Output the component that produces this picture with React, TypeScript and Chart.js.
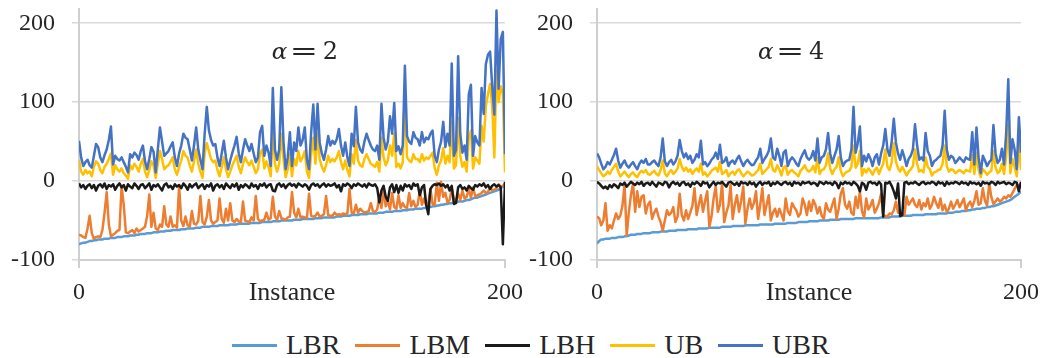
import React, { useEffect, useRef } from "react";
import { Chart, registerables } from "chart.js";

Chart.register(...registerables);

// ---------- data ----------
const INSTANCES: number[] = Array.from({ length: 201 }, (_, i) => i);
const Y_TICKS = [-100, 0, 100, 200];
const X_TICKS = [0, 100, 200];
const X_TICK_LABELS: Record<number, string> = { 0: "0", 100: "Instance", 200: "200" };
const SERIES_NAMES = ["LBR", "LBM", "LBH", "UB", "UBR"];
const SERIES_COLORS = ["#5B9BD5", "#ED7D31", "#1A1A1A", "#FFC000", "#4472C4"];

// alpha = 2
const LBR_A2 = [
  -80,-79,-78,-78,-77,-76,-76,-75,-75,-74,
  -74,-74,-73,-73,-73,-72,-72,-72,-71,-71,
  -71,-70,-70,-70,-69,-69,-69,-68,-68,-67,
  -67,-67,-66,-66,-66,-65,-65,-65,-64,-64,
  -64,-63,-63,-63,-62,-62,-62,-62,-61,-61,
  -61,-60,-60,-60,-60,-59,-59,-59,-58,-58,
  -58,-58,-57,-57,-57,-57,-56,-56,-56,-56,
  -56,-55,-55,-55,-55,-54,-54,-54,-54,-54,
  -54,-53,-53,-53,-53,-53,-52,-52,-52,-52,
  -52,-51,-51,-51,-51,-50,-50,-50,-50,-50,
  -50,-49,-49,-49,-49,-48,-48,-48,-48,-48,
  -48,-47,-47,-47,-47,-46,-46,-46,-46,-46,
  -46,-45,-45,-45,-44,-44,-44,-44,-43,-43,
  -43,-43,-42,-42,-42,-42,-41,-41,-41,-41,
  -41,-40,-40,-40,-39,-39,-39,-39,-38,-38,
  -38,-38,-37,-37,-37,-36,-36,-36,-35,-35,
  -35,-35,-34,-34,-33,-33,-32,-32,-31,-31,
  -30,-30,-29,-29,-28,-28,-27,-27,-26,-26,
  -26,-25,-24,-24,-23,-22,-21,-21,-20,-19,
  -18,-17,-16,-15,-14,-13,-12,-11,-9,-7,
  -5,
];
const LBM_A2 = [
  -68,-69,-71,-72,-60,-44,-66,-73,-71,-70,
  -71,-62,-40,-14,-55,-70,-68,-66,-63,-62,
  -7,-30,-65,-66,-64,-62,-66,-60,-64,-62,
  -60,-58,-44,-17,-58,-40,-60,-62,-55,-58,
  -32,-55,-58,-45,-58,-56,-59,-6,-50,-57,
  -45,-56,-58,-38,-54,-55,-50,-19,-52,-55,
  -45,-24,-50,-54,-52,-50,-22,-48,-53,-35,
  -50,-28,-50,-52,-48,-51,-52,-26,-50,-51,
  -52,-46,-50,-19,-48,-51,-50,-49,-40,-49,
  -47,-20,-45,-49,-38,-47,-48,-49,-46,-45,
  -14,-40,-46,-35,-46,-45,-46,-47,-16,-44,
  -45,-44,-40,-45,-44,-42,-19,-43,-44,-44,
  -40,-43,-42,-43,-41,-42,-41,-10,-40,-41,
  -30,-40,-35,-38,-40,-39,-38,-28,-38,-39,
  -36,-20,-34,-12,-32,-25,-36,-15,-33,-35,
  -18,-34,-28,-33,-34,-15,-32,-25,-33,-30,
  -12,-30,-22,-31,-28,-10,-29,-30,-2,-25,
  -1,-20,-15,-27,-24,-10,-22,-25,-16,-24,
  -12,-22,-20,-10,-21,-8,-19,-18,-17,-15,
  -12,-15,-14,-8,-12,-11,-9,-4,-7,-6,
  -3,
];
const LBH_A2 = [
  -3,-8,-5,-10,-6,-4,-9,-5,-12,-6,
  -4,-8,-3,-10,-5,-7,-4,-11,-6,-3,
  -8,-5,-12,-4,-7,-9,-3,-6,-10,-5,
  -4,-9,-6,-3,-11,-5,-7,-4,-8,-12,
  -5,-3,-8,-6,-10,-4,-7,-5,-9,-3,
  -6,-11,-4,-8,-5,-3,-9,-6,-4,-10,
  -5,-7,-3,-12,-6,-4,-8,-5,-10,-3,
  -6,-9,-4,-7,-3,-11,-5,-8,-4,-6,
  -9,-3,-7,-5,-10,-4,-6,-3,-8,-5,
  -4,-12,-13,-5,-3,-7,-4,-9,-5,-3,
  -6,-4,-8,-3,-5,-7,-4,-6,-11,-5,
  -3,-6,-4,-8,-5,-3,-7,-4,-6,-5,
  -3,-8,-5,-13,-4,-6,-3,-5,-9,-4,
  -6,-3,-5,-7,-4,-8,-3,-5,-6,-4,
  -9,-27,-12,-6,-20,-25,-8,-4,-14,-5,
  -15,-6,-12,-4,-7,-5,-10,-3,-6,-4,
  -18,-8,-5,-30,-42,-10,-6,-4,-5,-3,
  -6,-4,-8,-5,-12,-6,-29,-28,-8,-5,
  -10,-8,-12,-6,-9,-11,-5,-7,-4,-6,
  -3,-8,-5,-10,-6,-4,-7,-5,-8,-80,
  -1,
];
const UB_A2 = [
  27,12,8,14,10,12,6,18,25,22,
  14,10,18,22,28,35,8,20,15,12,
  16,10,7,3,20,15,22,18,12,22,
  28,12,5,14,25,20,4,22,38,28,
  15,18,20,25,30,15,8,18,26,38,
  32,30,20,12,25,40,22,12,4,35,
  48,38,28,24,26,14,6,18,30,15,
  5,12,20,26,32,18,10,22,30,24,
  20,26,18,10,15,35,40,16,25,18,
  6,65,22,12,22,60,28,5,15,35,
  6,28,20,38,25,30,38,12,4,34,
  55,22,60,28,18,12,20,32,24,28,
  25,30,38,24,15,26,14,6,34,22,
  52,26,20,18,28,34,28,22,20,18,
  24,12,55,30,20,26,45,32,60,18,
  22,16,24,108,30,26,24,34,28,28,
  24,34,26,30,28,32,36,16,8,20,
  26,42,22,32,24,75,16,20,80,32,
  18,24,12,55,64,16,30,26,22,70,
  50,95,110,123,95,30,140,100,120,110,
  11,
];
const UBR_A2 = [
  51,30,19,24,27,20,17,32,47,43,
  30,24,33,40,52,69,21,32,28,26,
  30,24,18,11,34,30,36,33,27,38,
  45,25,15,28,43,37,11,40,68,50,
  32,35,38,44,49,30,19,35,45,60,
  55,53,40,26,45,68,40,27,15,60,
  94,64,52,45,47,30,19,35,51,30,
  15,26,36,45,56,35,24,40,53,45,
  38,47,35,24,30,62,70,32,45,36,
  19,118,40,27,40,119,50,15,30,62,
  19,49,38,68,45,52,68,27,15,62,
  97,40,98,49,35,27,40,57,45,51,
  47,53,66,45,32,49,30,19,60,44,
  94,49,40,36,50,60,52,45,40,38,
  45,27,98,55,40,50,82,60,99,38,
  44,34,45,146,57,50,47,62,55,53,
  45,62,49,55,53,60,64,32,24,40,
  50,75,43,60,45,149,32,40,158,60,
  36,45,27,110,122,32,57,49,45,118,
  85,148,160,164,120,84,216,117,180,189,
  34,
];

// alpha = 4
const LBR_A4 = [
  -79,-76,-74,-74,-73,-73,-73,-72,-72,-72,
  -71,-71,-71,-70,-70,-69,-68,-68,-68,-67,
  -67,-67,-66,-66,-66,-66,-65,-65,-65,-65,
  -64,-64,-64,-64,-63,-63,-63,-63,-62,-62,
  -62,-62,-62,-61,-61,-61,-61,-61,-60,-60,
  -60,-60,-60,-59,-59,-59,-59,-59,-59,-58,
  -58,-58,-58,-58,-57,-57,-57,-57,-57,-57,
  -56,-56,-56,-56,-56,-56,-56,-55,-55,-55,
  -55,-55,-55,-55,-54,-54,-54,-54,-54,-54,
  -53,-53,-53,-53,-53,-52,-52,-52,-52,-52,
  -51,-51,-51,-51,-51,-50,-50,-50,-50,-50,
  -49,-49,-49,-49,-49,-48,-48,-48,-48,-48,
  -48,-48,-47,-47,-47,-47,-47,-47,-47,-47,
  -47,-47,-47,-47,-46,-46,-46,-46,-46,-45,
  -45,-45,-45,-45,-44,-44,-44,-44,-44,-43,
  -43,-43,-43,-43,-43,-42,-42,-42,-42,-42,
  -42,-41,-41,-41,-41,-41,-40,-40,-40,-39,
  -39,-39,-38,-38,-38,-37,-37,-36,-36,-35,
  -35,-35,-34,-34,-33,-33,-32,-32,-31,-30,
  -29,-28,-27,-26,-25,-24,-22,-20,-18,-16,
  -13,
];
const LBM_A4 = [
  -45,-47,-56,-50,-28,-63,-56,-60,-50,-41,
  -48,-44,-31,-5,-69,-40,-18,-3,-39,-13,
  -33,-20,-18,-41,-30,-26,-48,-40,-35,-45,
  -52,-63,-50,-37,-43,-40,-33,-52,-45,-16,
  -43,-50,-37,-48,-40,-31,-9,-43,-30,-18,
  -39,-25,-13,-58,-45,-22,-7,-39,-30,-3,
  -52,-40,-31,-5,-48,-30,-18,-39,-25,-7,
  -54,-35,-22,-35,-28,-13,-48,-30,-9,-43,
  -30,-18,-50,-40,-35,-45,-35,-42,-50,-22,
  -38,-43,-28,-33,-37,-45,-41,-22,-30,-43,
  -26,-38,-24,-30,-41,-33,-44,-48,-28,-36,
  -39,-30,-22,-48,-35,-16,-9,-30,-35,-26,
  -40,-43,-20,-34,-13,-38,-46,-22,-36,-31,
  -24,-40,-35,-28,-16,-43,-44,-45,-41,-42,
  -37,-26,-40,-41,-42,-43,-20,-30,-26,-22,
  -30,-33,-24,-36,-28,-32,-22,-35,-30,-20,
  -28,-34,-22,-37,-30,-39,-35,-26,-35,-30,
  -24,-33,-28,-22,-37,-30,-26,-33,-25,-13,
  -30,-28,-9,-25,-31,-3,-20,-29,-26,-22,
  -26,-24,-20,-22,-18,-20,-15,-10,-5,-6,
  -3,
];
const LBH_A4 = [
  -1,-3,-6,-9,-7,-10,-5,-8,-4,-6,
  -9,-3,-5,-2,-7,-4,-1,-3,-5,-2,
  -4,-1,-6,-3,-2,-5,-1,-4,-7,-2,
  -3,-5,-1,-2,-8,-3,-1,-4,-2,-6,
  -2,-1,-5,-3,-7,-2,-4,-1,-3,-6,
  -1,-3,-2,-8,-4,-1,-5,-2,-3,-1,
  -4,-7,-2,-1,-3,-5,-2,-6,-1,-3,
  -2,-5,-1,-4,-2,-7,-3,-1,-5,-2,
  -3,-1,-6,-2,-4,-1,-3,-5,-2,-1,
  -4,-2,-6,-1,-3,-2,-5,-1,-3,-2,
  -1,-4,-2,-3,-6,-1,-2,-4,-1,-3,
  -2,-5,-1,-3,-9,-2,-4,-1,-3,-2,
  -5,-1,-3,-6,-13,-2,-4,-11,-2,-1,
  -3,-2,-5,-1,-4,-45,-2,-3,-1,-6,
  -13,-22,-3,-44,-43,-2,-1,-4,-2,-3,
  -1,-3,-5,-2,-1,-4,-2,-3,-1,-2,
  -5,-1,-3,-2,-6,-1,-4,-2,-3,-1,
  -2,-4,-1,-3,-2,-5,-1,-3,-2,-4,
  -2,-6,-1,-3,-2,-4,-1,-2,-5,-1,
  -3,-2,-1,-4,-2,-3,-5,-1,-2,-13,
  -1,
];
const UB_A4 = [
  19,14,10,6,8,12,9,14,18,22,
  12,6,9,12,8,5,9,11,7,5,
  10,13,11,14,9,8,11,13,9,7,
  14,26,10,6,11,14,9,12,16,28,
  18,13,17,12,15,9,13,16,12,22,
  8,11,6,9,13,15,17,12,24,9,
  11,14,6,10,12,8,13,15,10,6,
  9,12,10,7,8,11,14,22,9,12,
  15,18,28,14,12,20,15,7,17,19,
  8,12,14,11,9,6,13,16,20,14,
  12,14,19,11,30,9,14,15,20,35,
  16,9,15,18,30,13,6,10,12,13,
  18,45,17,22,38,7,15,11,16,13,
  8,14,17,9,16,22,40,18,14,24,
  48,25,16,12,18,13,7,12,15,19,
  40,22,12,14,11,30,18,15,7,11,
  12,14,15,22,45,19,12,15,14,10,
  12,14,12,10,14,13,12,33,9,36,
  14,5,15,12,8,11,13,38,17,10,
  13,22,9,30,72,10,28,18,6,48,
  14,
];
const UBR_A4 = [
  35,30,22,15,18,24,21,27,33,41,
  26,17,22,26,20,17,21,24,19,15,
  22,26,23,28,21,21,24,26,22,19,
  30,54,25,19,24,27,21,25,32,52,
  38,30,35,28,32,23,27,34,30,51,
  21,24,19,22,27,30,36,28,46,23,
  25,30,19,24,26,22,28,32,25,19,
  24,27,23,20,21,26,30,41,23,28,
  32,38,54,30,27,41,32,19,36,39,
  19,26,30,27,22,19,28,34,39,30,
  27,30,38,26,54,23,30,32,40,61,
  35,23,32,40,57,30,19,24,26,27,
  40,94,36,48,69,19,32,25,34,28,
  19,30,34,21,35,45,66,40,32,50,
  79,49,35,27,39,30,19,28,32,40,
  72,45,27,30,26,61,38,32,19,25,
  27,30,32,45,89,40,27,32,30,23,
  26,30,27,24,30,28,27,62,21,68,
  30,10,32,26,19,24,27,71,35,23,
  27,41,21,60,129,23,53,40,15,81,
  36,
];

// ---------- styling ----------
const SERIF = "'Liberation Serif', 'Times New Roman', serif";
const TEXT_COLOR = "#262626";
const CANVAS_H = 310;

const alphaPlugin = {
  id: "alphaLabel",
  afterDatasetsDraw(chart: any, _args: any, opts: any) {
    const { ctx, scales } = chart;
    const x = scales.x.getPixelForValue(opts.x);
    const y = scales.y.getPixelForValue(opts.y);
    ctx.save();
    ctx.fillStyle = TEXT_COLOR;
    ctx.textAlign = "left";
    ctx.textBaseline = "alphabetic";
    ctx.font = "italic 23px 'DejaVu Serif'";
    ctx.fillText("α", x, y);
    ctx.font = "24px 'DejaVu Serif'";
    ctx.save();
    ctx.translate(x + 18, y);
    ctx.scale(1.4, 1);
    ctx.fillText("=", 0, 0);
    ctx.restore();
    ctx.fillText(opts.value, x + 51, y);
    ctx.restore();
  },
};

type PanelProps = {
  left: number;
  width: number;
  axisWidth: number;
  padRight: number;
  alphaValue: string;
  annX: number;
  annY: number;
  series: number[][];
};

function Panel(p: PanelProps) {
  const ref = useRef<HTMLCanvasElement>(null);
  useEffect(() => {
    const order = [5, 4, 3, 2, 1];
    const chart = new Chart(ref.current as HTMLCanvasElement, {
      type: "line",
      data: {
        labels: INSTANCES,
        datasets: SERIES_NAMES.map((name, i) => ({
          label: name,
          data: p.series[i],
          borderColor: SERIES_COLORS[i],
          backgroundColor: SERIES_COLORS[i],
          borderWidth: 2.5,
          pointRadius: 0,
          tension: 0,
          borderJoinStyle: "round" as const,
          order: order[i],
        })),
      },
      options: {
        responsive: false,
        animation: false,
        devicePixelRatio: 1,
        layout: { padding: { top: 9, right: p.padRight, left: 0, bottom: 0 } },
        plugins: {
          legend: { display: false },
          tooltip: { enabled: false },
          alphaLabel: { x: p.annX, y: p.annY, value: p.alphaValue },
        } as any,
        scales: {
          x: {
            type: "linear",
            min: 0,
            max: 200,
            afterBuildTicks: (s: any) => {
              s.ticks = X_TICKS.map((v) => ({ value: v }));
            },
            afterFit: (s: any) => {
              s.height = CANVAS_H - 260;
              s.paddingLeft = 0;
              s.paddingRight = 0;
            },
            ticks: {
              autoSkip: false,
              maxRotation: 0,
              padding: 10,
              color: TEXT_COLOR,
              font: (c: any) => ({ family: SERIF, size: c.tick && c.tick.value === 100 ? 26 : 24 }),
              callback: (v: any) => X_TICK_LABELS[Number(v)] ?? "",
            },
            grid: {
              drawOnChartArea: false,
              drawTicks: true,
              tickLength: 8,
              lineWidth: 2,
              tickColor: (c: any) => (c.tick && c.tick.value === 100 ? "rgba(0,0,0,0)" : "#cfcfcf"),
              color: "#cfcfcf",
            },
            border: { display: true, color: "#cfcfcf", width: 2 },
          },
          y: {
            type: "linear",
            min: -100,
            max: 218,
            afterBuildTicks: (s: any) => {
              s.ticks = Y_TICKS.map((v) => ({ value: v }));
            },
            afterFit: (s: any) => {
              s.width = p.axisWidth;
              s.paddingTop = 0;
              s.paddingBottom = 0;
            },
            ticks: {
              padding: 17,
              color: TEXT_COLOR,
              font: { family: SERIF, size: 24 },
            },
            grid: {
              color: "#d9d9d9",
              lineWidth: 1.5,
              tickLength: 7,
              drawTicks: true,
            },
            border: { display: true, color: "#cfcfcf", width: 2 },
          },
        },
      },
      plugins: [alphaPlugin],
    });
    return () => chart.destroy();
  }, []);
  return (
    <canvas
      ref={ref}
      width={p.width}
      height={CANVAS_H}
      style={{ position: "absolute", left: p.left, top: 0, width: p.width, height: CANVAS_H }}
    />
  );
}

function Legend() {
  return (
    <div
      style={{
        position: "absolute",
        left: 232,
        top: 327,
        height: 36,
        display: "flex",
        alignItems: "center",
        fontFamily: SERIF,
        fontSize: 28,
        color: TEXT_COLOR,
        whiteSpace: "nowrap",
      }}
    >
      {SERIES_NAMES.map((name, i) => (
        <div key={name} style={{ display: "flex", alignItems: "center", marginRight: 15 }}>
          <span
            style={{ display: "inline-block", width: 45, height: 3, background: SERIES_COLORS[i], marginRight: 9 }}
          />
          <span style={{ lineHeight: "36px" }}>{name}</span>
        </div>
      ))}
    </div>
  );
}

export default function App() {
  return (
    <div
      style={{
        position: "fixed",
        left: 0,
        top: 0,
        width: 1051,
        height: 358,
        background: "#ffffff",
        overflow: "hidden",
      }}
    >
      <Panel
        left={0}
        width={525}
        axisWidth={79}
        padRight={20}
        alphaValue="2"
        annX={90.5}
        annY={155}
        series={[LBR_A2, LBM_A2, LBH_A2, UB_A2, UBR_A2]}
      />
      <Panel
        left={525}
        width={526}
        axisWidth={72}
        padRight={30}
        alphaValue="4"
        annX={76}
        annY={155}
        series={[LBR_A4, LBM_A4, LBH_A4, UB_A4, UBR_A4]}
      />
      <Legend />
    </div>
  );
}
